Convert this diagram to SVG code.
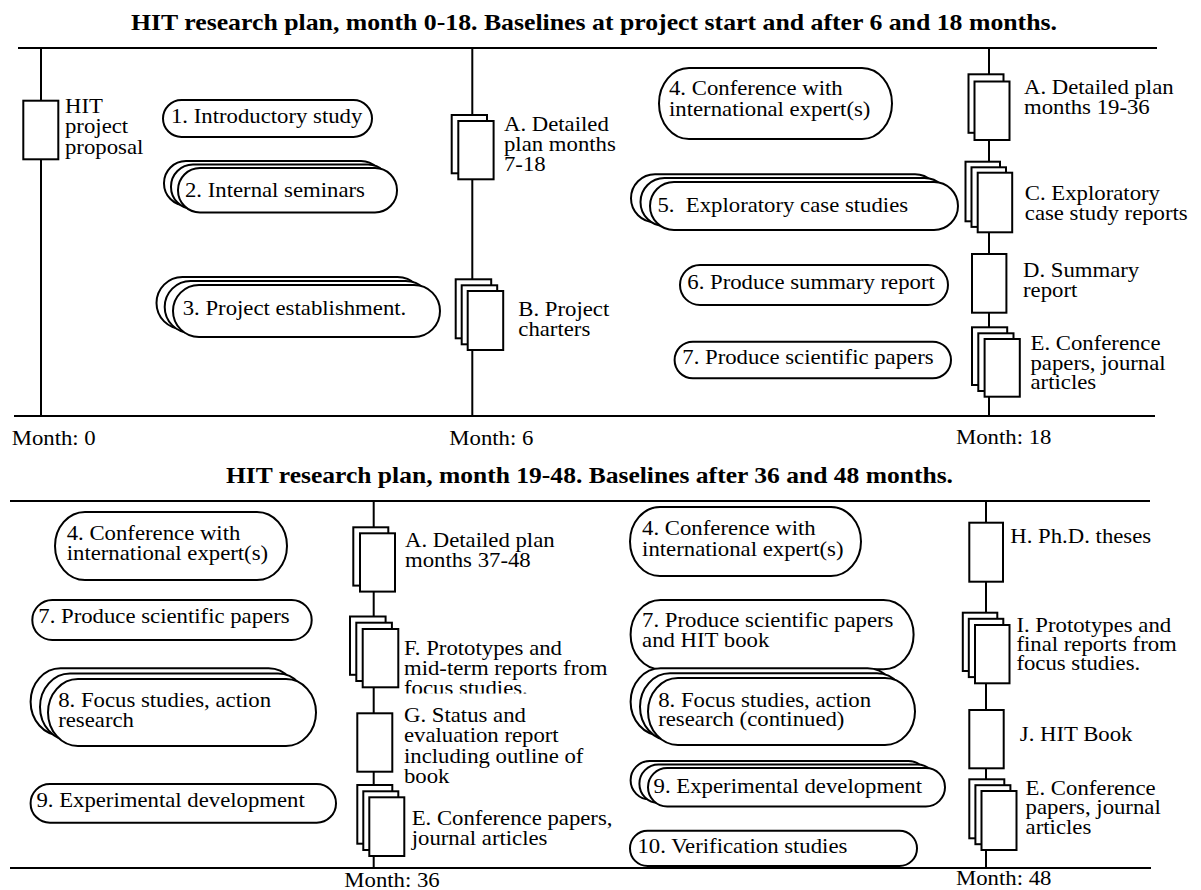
<svg xmlns="http://www.w3.org/2000/svg" width="1201" height="890" viewBox="0 0 1201 890">
<style>
.t{font-family:"Liberation Serif",Tinos,"Times New Roman","DejaVu Serif",serif;font-size:20.5px;fill:#000}
.h{font-family:"Liberation Serif",Tinos,"Times New Roman","DejaVu Serif",serif;font-size:23.5px;font-weight:bold;fill:#000}
.ax{stroke:#000;stroke-width:2;fill:none}
.p{fill:#fff;stroke:#000;stroke-width:2}
.d{fill:#fff;stroke:#000;stroke-width:2}
</style>
<defs>
<clipPath id="clipF"><rect x="398" y="630" width="220" height="63.5"/></clipPath>
</defs>
<rect x="0" y="0" width="1201" height="890" fill="#fff"/>

<text class="h" x="131" y="29.5" textLength="926" lengthAdjust="spacingAndGlyphs">HIT research plan, month 0-18. Baselines at project start and after 6 and 18 months.</text>
<text class="h" x="226" y="482.5" textLength="727" lengthAdjust="spacingAndGlyphs">HIT research plan, month 19-48. Baselines after 36 and 48 months.</text>

<g id="connectors">
<line class="ax" x1="18" y1="48" x2="1157" y2="48"/>
<line class="ax" x1="14" y1="416" x2="1155" y2="416"/>
<line class="ax" x1="41" y1="48" x2="41" y2="416"/>
<line class="ax" x1="472.3" y1="48" x2="472.3" y2="416"/>
<line class="ax" x1="989" y1="48" x2="989" y2="416"/>
<line class="ax" x1="10" y1="501" x2="1150" y2="501"/>
<line class="ax" x1="10" y1="868" x2="1151" y2="868"/>
<line class="ax" x1="373.7" y1="501" x2="373.7" y2="868"/>
<line class="ax" x1="986" y1="501" x2="986" y2="868"/>
</g>

<g id="month-labels">
<text class="t" transform="translate(11.7,444.5) scale(1.11,1)">Month: 0</text>
<text class="t" transform="translate(449.3,444.5) scale(1.11,1)">Month: 6</text>
<text class="t" transform="translate(956,443.5) scale(1.11,1)">Month: 18</text>
<text class="t" transform="translate(344.3,886.5) scale(1.11,1)">Month: 36</text>
<text class="t" transform="translate(956,885) scale(1.11,1)">Month: 48</text>
</g>

<!-- TOP SECTION -->
<g id="doc-proposal">
<rect class="d" x="23.3" y="100.7" width="35" height="58.6"/>
<text class="t" transform="translate(65,112.5) scale(1.11,1)"><tspan x="0" y="0">HIT</tspan><tspan x="0" y="20.8">project</tspan><tspan x="0" y="41.6">proposal</tspan></text>
</g>

<g id="act1">
<rect class="p" x="163" y="100" width="209" height="37" rx="18.5" ry="18.5"/>
<text class="t" transform="translate(171,123.3) scale(1.11,1)">1. Introductory study</text>
</g>

<g id="act2">
<rect class="p" x="164" y="161" width="219" height="44.5" rx="22" ry="22"/>
<rect class="p" x="171" y="164.5" width="219" height="44.5" rx="22" ry="22"/>
<rect class="p" x="178" y="168" width="219" height="44.5" rx="22" ry="22"/>
<text class="t" transform="translate(185,196.7) scale(1.11,1)">2. Internal seminars</text>
</g>

<g id="act3">
<rect class="p" x="156.5" y="277" width="267" height="52" rx="26" ry="26"/>
<rect class="p" x="164.7" y="281" width="267" height="52" rx="26" ry="26"/>
<rect class="p" x="173" y="285" width="267" height="52" rx="26" ry="26"/>
<text class="t" transform="translate(182.7,315) scale(1.11,1)">3. Project establishment.</text>
</g>

<g id="docA6">
<rect class="d" x="451.7" y="115" width="35.3" height="58.3"/>
<rect class="d" x="458.3" y="121" width="35.3" height="58.3"/>
<text class="t" transform="translate(504,130.7) scale(1.11,1)"><tspan x="0" y="0">A. Detailed</tspan><tspan x="0" y="20">plan months</tspan><tspan x="0" y="40">7-18</tspan></text>
</g>

<g id="docB">
<rect class="d" x="455.7" y="279.3" width="35.5" height="59"/>
<rect class="d" x="461.7" y="285.3" width="35.5" height="59"/>
<rect class="d" x="467.7" y="291" width="35.5" height="59"/>
<text class="t" transform="translate(518.3,316) scale(1.11,1)"><tspan x="0" y="0">B. Project</tspan><tspan x="0" y="20">charters</tspan></text>
</g>

<g id="act4a">
<rect class="p" x="659" y="68" width="233" height="71" rx="30" ry="35.5"/>
<text class="t" transform="translate(669,95) scale(1.11,1)"><tspan x="0" y="0">4. Conference with</tspan><tspan x="0" y="21">international expert(s)</tspan></text>
</g>

<g id="act5">
<rect class="p" x="631" y="174.3" width="308" height="48" rx="24" ry="24"/>
<rect class="p" x="640.5" y="178" width="308" height="48" rx="24" ry="24"/>
<rect class="p" x="650" y="182" width="308" height="48" rx="24" ry="24"/>
<text class="t" transform="translate(657.4,211.7) scale(1.11,1)">5.&#160; Exploratory case studies</text>
</g>

<g id="act6">
<rect class="p" x="680" y="265" width="268" height="40" rx="20" ry="20"/>
<text class="t" transform="translate(687.3,289.3) scale(1.11,1)">6. Produce summary report</text>
</g>

<g id="act7a">
<rect class="p" x="674.6" y="341.7" width="276.4" height="36.6" rx="18.3" ry="18.3"/>
<text class="t" transform="translate(682.3,364) scale(1.11,1)">7. Produce scientific papers</text>
</g>

<g id="docA18">
<rect class="d" x="968.5" y="74.3" width="35" height="58.5"/>
<rect class="d" x="974.5" y="81.5" width="35" height="58.5"/>
<text class="t" transform="translate(1024,94.3) scale(1.11,1)"><tspan x="0" y="0">A. Detailed plan</tspan><tspan x="0" y="19.7">months 19-36</tspan></text>
</g>

<g id="docC">
<rect class="d" x="965.5" y="161.7" width="34.5" height="59.6"/>
<rect class="d" x="971.5" y="167.3" width="34.5" height="59.6"/>
<rect class="d" x="977.7" y="172.7" width="34.5" height="59.6"/>
<text class="t" transform="translate(1024.8,200) scale(1.11,1)"><tspan x="0" y="0">C. Exploratory</tspan><tspan x="0" y="20">case study reports</tspan></text>
</g>

<g id="docD">
<rect class="d" x="972" y="254" width="34.4" height="58.7"/>
<text class="t" transform="translate(1023,277.3) scale(1.11,1)"><tspan x="0" y="0">D. Summary</tspan><tspan x="0" y="20">report</tspan></text>
</g>

<g id="docE18">
<rect class="d" x="972" y="327.3" width="35.2" height="57.7"/>
<rect class="d" x="978.3" y="333.3" width="35.2" height="57.7"/>
<rect class="d" x="984.6" y="339" width="35.2" height="57.7"/>
<text class="t" transform="translate(1030.5,350) scale(1.11,1)"><tspan x="0" y="0">E. Conference</tspan><tspan x="0" y="19.7">papers, journal</tspan><tspan x="0" y="39.4">articles</tspan></text>
</g>

<!-- BOTTOM SECTION -->
<g id="act4b">
<rect class="p" x="55" y="512" width="232" height="68" rx="30" ry="34"/>
<text class="t" transform="translate(66.7,540) scale(1.11,1)"><tspan x="0" y="0">4. Conference with</tspan><tspan x="0" y="20">international expert(s)</tspan></text>
</g>

<g id="act7b">
<rect class="p" x="32.3" y="600" width="279.4" height="40" rx="20" ry="20"/>
<text class="t" transform="translate(38.3,623.3) scale(1.11,1)">7. Produce scientific papers</text>
</g>

<g id="act8b">
<rect class="p" x="30.6" y="668.3" width="268" height="67" rx="30" ry="33.5"/>
<rect class="p" x="40" y="673.5" width="268" height="67" rx="30" ry="33.5"/>
<rect class="p" x="48" y="679" width="268" height="67" rx="30" ry="33.5"/>
<text class="t" transform="translate(58.2,706.7) scale(1.11,1)"><tspan x="0" y="0">8. Focus studies, action</tspan><tspan x="0" y="20">research</tspan></text>
</g>

<g id="act9b">
<rect class="p" x="30.6" y="784" width="305.4" height="38.7" rx="19.3" ry="19.3"/>
<text class="t" transform="translate(36.4,806.7) scale(1.11,1)">9. Experimental development</text>
</g>

<g id="docA36">
<rect class="d" x="353.3" y="527.3" width="35" height="58.3"/>
<rect class="d" x="360" y="533.3" width="35" height="58.3"/>
<text class="t" transform="translate(405,547.3) scale(1.11,1)"><tspan x="0" y="0">A. Detailed plan</tspan><tspan x="0" y="20">months 37-48</tspan></text>
</g>

<g id="docF">
<rect class="d" x="350" y="616.5" width="35.6" height="58.3"/>
<rect class="d" x="356.3" y="622.7" width="35.6" height="58.3"/>
<rect class="d" x="362.7" y="629" width="35.6" height="58.3"/>
<g clip-path="url(#clipF)">
<text class="t" transform="translate(404,655) scale(1.11,1)"><tspan x="0" y="0">F. Prototypes and</tspan><tspan x="0" y="20">mid-term reports from</tspan><tspan x="0" y="40.5">focus studies.</tspan></text>
</g>
</g>

<g id="docG">
<rect class="d" x="357.3" y="713.3" width="35" height="58.4"/>
<text class="t" transform="translate(404,722.3) scale(1.11,1)"><tspan x="0" y="0">G. Status and</tspan><tspan x="0" y="20.2">evaluation report</tspan><tspan x="0" y="40.4">including outline of</tspan><tspan x="0" y="60.4">book</tspan></text>
</g>

<g id="docE36">
<rect class="d" x="357.3" y="785" width="35" height="58.7"/>
<rect class="d" x="363.3" y="791.3" width="35" height="58.7"/>
<rect class="d" x="369.3" y="797.3" width="35" height="58.7"/>
<text class="t" transform="translate(411.7,825) scale(1.11,1)"><tspan x="0" y="0">E. Conference papers,</tspan><tspan x="0" y="20">journal articles</tspan></text>
</g>

<g id="act4c">
<rect class="p" x="630" y="507" width="231" height="69" rx="30" ry="34.5"/>
<text class="t" transform="translate(642.1,535) scale(1.11,1)"><tspan x="0" y="0">4. Conference with</tspan><tspan x="0" y="21">international expert(s)</tspan></text>
</g>

<g id="act7c">
<rect class="p" x="630.6" y="600" width="283" height="69.3" rx="30" ry="34.6"/>
<text class="t" transform="translate(642.1,626.7) scale(1.11,1)"><tspan x="0" y="0">7. Produce scientific papers</tspan><tspan x="0" y="20">and HIT book</tspan></text>
</g>

<g id="act8c">
<rect class="p" x="630.6" y="668.3" width="267" height="67" rx="30" ry="33.5"/>
<rect class="p" x="640" y="673.3" width="267" height="67" rx="30" ry="33.5"/>
<rect class="p" x="648" y="678" width="267" height="67" rx="30" ry="33.5"/>
<text class="t" transform="translate(658.2,706.7) scale(1.11,1)"><tspan x="0" y="0">8. Focus studies, action</tspan><tspan x="0" y="19.5">research (continued)</tspan></text>
</g>

<g id="act9c">
<rect class="p" x="630.6" y="761" width="297" height="38.5" rx="19.2" ry="19.2"/>
<rect class="p" x="639.4" y="764.5" width="297" height="38.5" rx="19.2" ry="19.2"/>
<rect class="p" x="648" y="768" width="297" height="38.5" rx="19.2" ry="19.2"/>
<text class="t" transform="translate(653.6,793.3) scale(1.11,1)">9. Experimental development</text>
</g>

<g id="act10">
<rect class="p" x="630" y="830.7" width="287" height="35.3" rx="17.6" ry="17.6"/>
<text class="t" transform="translate(637.5,853.3) scale(1.11,1)">10. Verification studies</text>
</g>

<g id="docH">
<rect class="d" x="969.3" y="522.7" width="33.7" height="59"/>
<text class="t" transform="translate(1010.3,542.7) scale(1.11,1)">H. Ph.D. theses</text>
</g>

<g id="docI">
<rect class="d" x="962.8" y="612.7" width="34.5" height="58.3"/>
<rect class="d" x="968.8" y="618.8" width="34.5" height="58.3"/>
<rect class="d" x="975" y="625" width="34.5" height="58.3"/>
<text class="t" transform="translate(1016.4,631.7) scale(1.11,1)"><tspan x="0" y="0">I. Prototypes and</tspan><tspan x="0" y="19.5">final reports from</tspan><tspan x="0" y="38.5">focus studies.</tspan></text>
</g>

<g id="docJ">
<rect class="d" x="969.3" y="710" width="34.4" height="58.3"/>
<text class="t" transform="translate(1019.8,740.7) scale(1.11,1)">J. HIT Book</text>
</g>

<g id="docE48">
<rect class="d" x="969.3" y="779.3" width="35" height="59"/>
<rect class="d" x="975.4" y="785.2" width="35" height="59"/>
<rect class="d" x="981.5" y="791" width="35" height="59"/>
<text class="t" transform="translate(1025.6,795) scale(1.11,1)"><tspan x="0" y="0">E. Conference</tspan><tspan x="0" y="19.5">papers, journal</tspan><tspan x="0" y="39">articles</tspan></text>
</g>
</svg>
